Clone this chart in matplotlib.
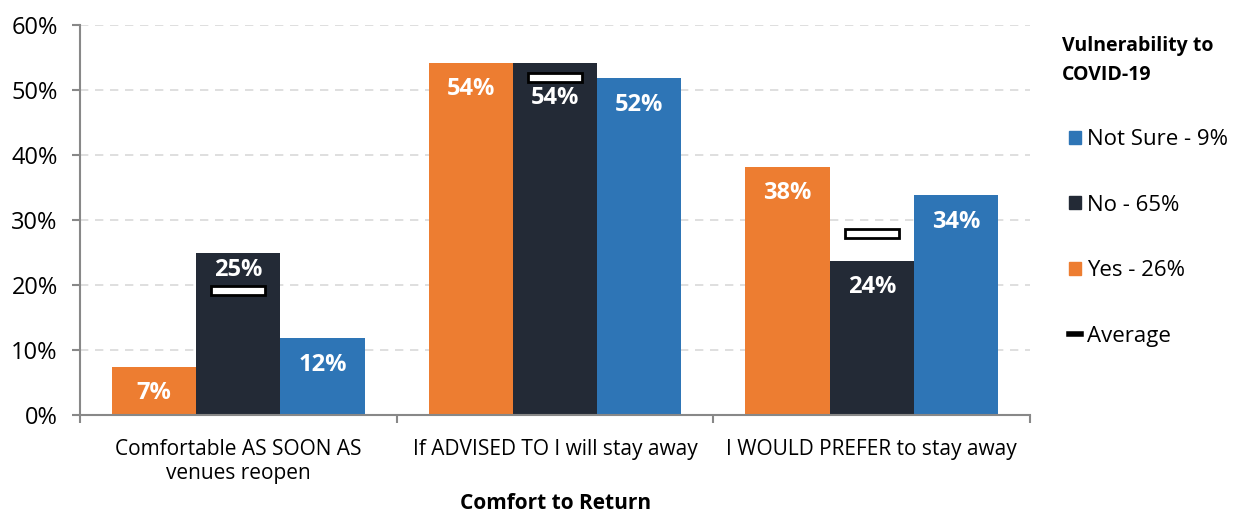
import matplotlib.pyplot as plt
from matplotlib.lines import Line2D
from matplotlib.patches import Patch
import numpy as np

plt.rcParams['font.family'] = ['Open Sans', 'DejaVu Sans']

categories = ['Comfortable AS SOON AS\nvenues reopen', 'If ADVISED TO I will stay away', 'I WOULD PREFER to stay away']
yes_vals = [7.4, 54.2, 38.2]
no_vals = [24.9, 54.2, 23.7]
not_sure_vals = [11.8, 51.8, 33.8]
average_vals = [19.1, 52.0, 28.0]

series = [
    ('Yes - 26%', yes_vals, '#ED7D31'),
    ('No - 65%', no_vals, '#232A36'),
    ('Not Sure - 9%', not_sure_vals, '#2E75B6'),
]

fig = plt.figure(figsize=(12.42, 5.13), dpi=100)
ax = fig.add_axes([0.0644, 0.191, 0.765, 0.76])

x = np.arange(len(categories))
width = 0.266

for i, (name, vals, color) in enumerate(series):
    pos = x + (i - 1) * width
    ax.bar(pos, vals, width=width, color=color, zorder=2)
    for j, (p, v) in enumerate(zip(pos, vals)):
        # push the label down a bit when the average marker sits at the top of the bar
        off = -19
        if i == 1 and j == 0:
            off = -12
        elif i == 1 and j == 1:
            off = -25
        ax.annotate(f'{round(v):.0f}%', (p, v), xytext=(0, off), textcoords='offset points',
                    ha='center', va='center', color='white', fontsize=17, fontweight='bold', zorder=4)

# average markers: white bars outlined in black on the middle series
for xi, av in zip(x, average_vals):
    ax.add_patch(plt.Rectangle((xi - 0.085, av - 0.7), 0.17, 1.4, facecolor='white',
                               edgecolor='black', linewidth=2, zorder=3))

ax.set_xlim(-0.5, 2.5)
ax.set_ylim(0, 60)
ax.set_yticks(np.arange(0, 61, 10))
ax.set_yticklabels([f'{t}%' for t in range(0, 61, 10)], fontsize=17)
ax.yaxis.grid(True, linestyle=(0, (5, 4)), color='#d9d9d9', linewidth=1.2, zorder=0)
ax.set_axisbelow(True)

ax.set_xticks([-0.5, 0.5, 1.5, 2.5])
ax.set_xticklabels([])
ax.set_xticks(x, minor=True)
ax.set_xticklabels(categories, minor=True, fontsize=15)
ax.tick_params(axis='x', which='minor', length=0, pad=17)
ax.tick_params(axis='x', which='major', length=6, color='#888888', width=1.5)
ax.tick_params(axis='y', length=6, color='#888888', width=1.5, pad=10)
fig.text(0.447, 0.019, 'Comfort to Return', fontsize=15, fontweight='bold',
         ha='center', va='center')

for s in ['top', 'right']:
    ax.spines[s].set_visible(False)
for s in ['left', 'bottom']:
    ax.spines[s].set_color('#888888')
    ax.spines[s].set_linewidth(1.5)

handles = [
    Patch(color='#2E75B6', label='Not Sure - 9%'),
    Patch(color='#232A36', label='No - 65%'),
    Patch(color='#ED7D31', label='Yes - 26%'),
    Line2D([0], [0], color='black', linewidth=4, label='Average'),
]
fig.text(0.855, 0.93, 'Vulnerability to\nCOVID-19', fontsize=14, fontweight='bold',
         va='top', ha='left', linespacing=1.6)
leg = fig.legend(handles=handles, loc='upper left', bbox_to_anchor=(0.845, 0.787),
                 frameon=False, fontsize=16, handlelength=0.5, handleheight=0.5,
                 handletextpad=0.3, labelspacing=2.0)

fig.savefig('out.png', dpi=100)
